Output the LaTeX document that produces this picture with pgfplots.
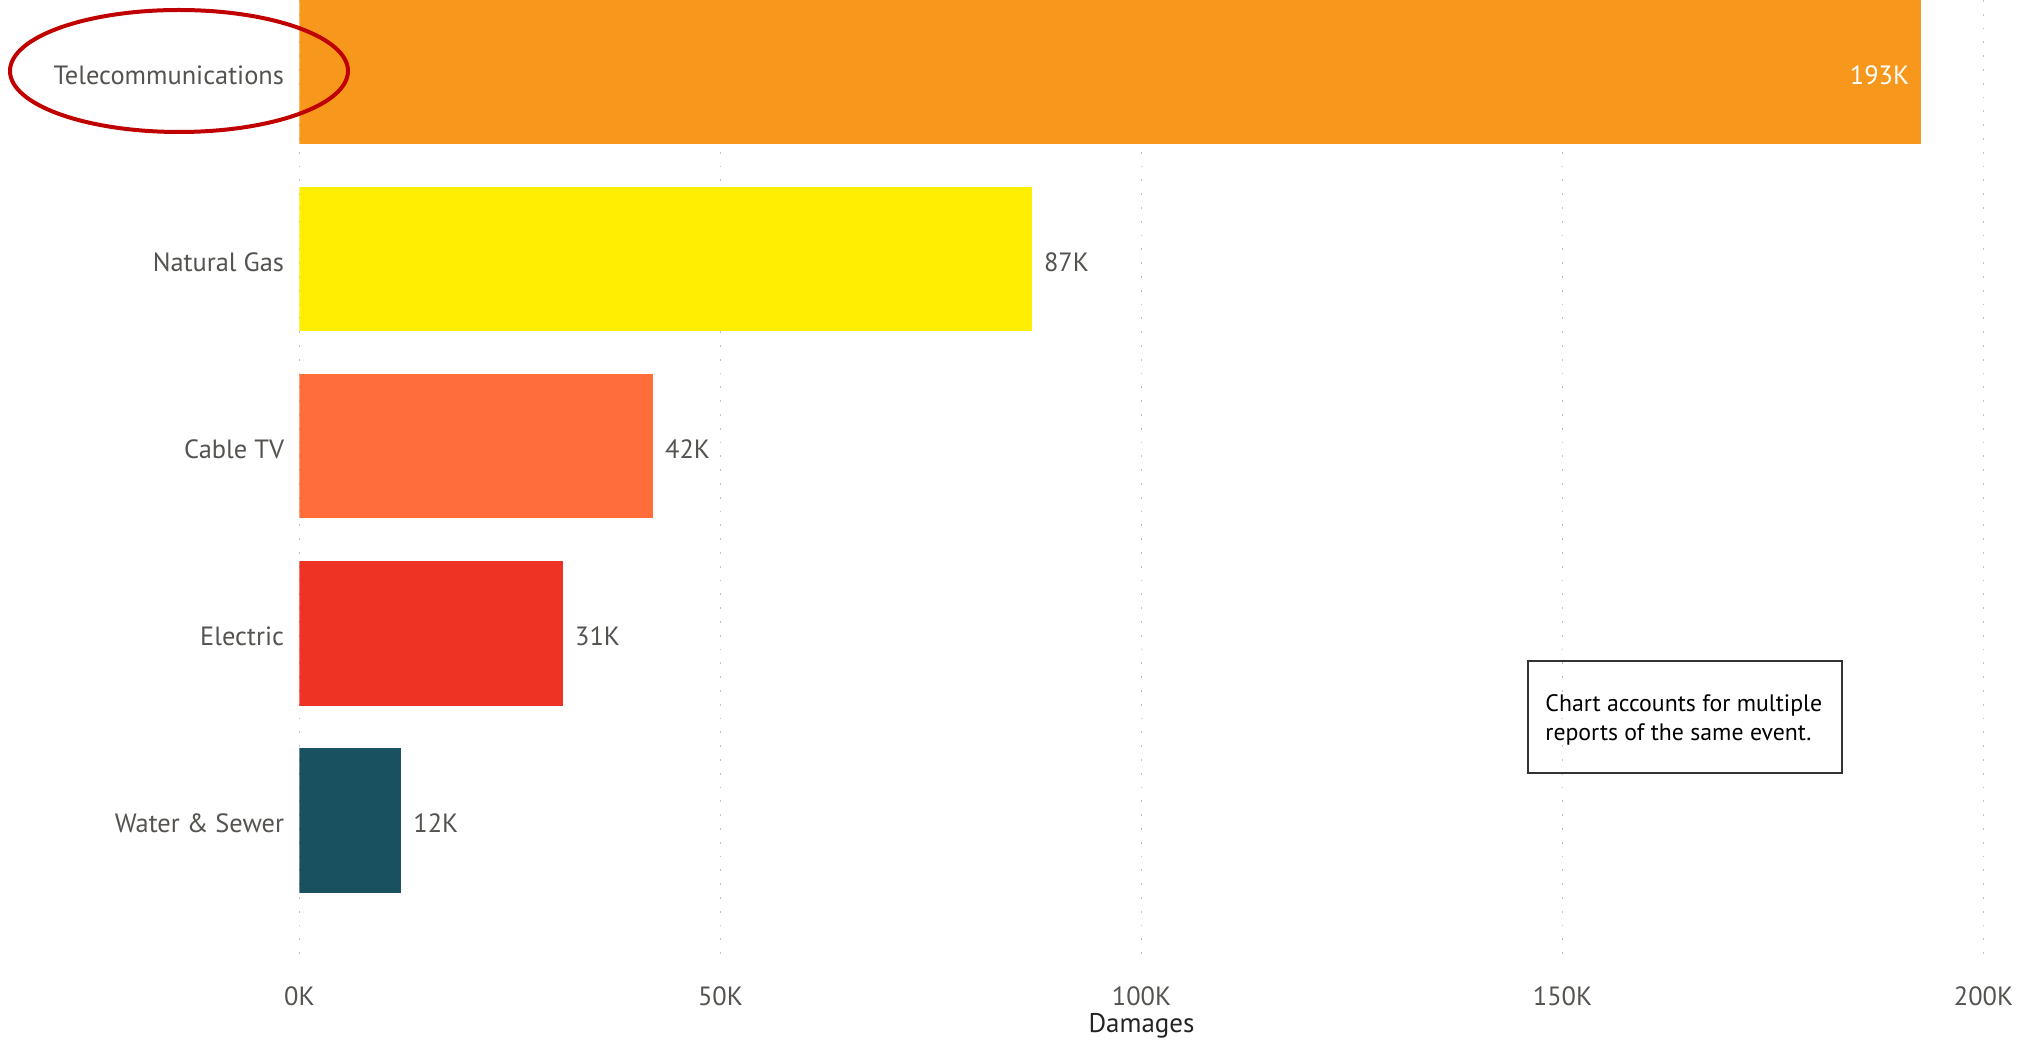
\documentclass[border=0pt]{standalone}
\usepackage{pgfplots}
\pgfplotsset{compat=1.18}
\usepackage{fontspec}
\setmainfont{PT Sans}
\definecolor{telecom}{HTML}{F7981D}
\definecolor{natgas}{HTML}{FFEE00}
\definecolor{cabletv}{HTML}{FF6D3B}
\definecolor{electric}{HTML}{EE3224}
\definecolor{water}{HTML}{1A5161}
\definecolor{lblgray}{HTML}{55534F}
\definecolor{ttlgray}{HTML}{252423}
\definecolor{ellred}{HTML}{C00000}
\begin{document}
\begin{tikzpicture}
\begin{axis}[
  at={(0pt,0pt)}, anchor=north west,
  scale only axis, width=842pt, height=477.5pt,
  xbar, bar width=0.772, bar shift=0pt,
  xmin=0, xmax=200, ymin=-0.386, ymax=4.72, y dir=reverse,
  axis line style={draw=none},
  major tick length=0pt,
  ytick={0,1,2,3,4},
  yticklabels={Telecommunications,Natural Gas,Cable TV,Electric,Water \& Sewer},
  xtick={0,50,100,150,200},
  xticklabels={0K,50K,100K,150K,200K},
  xmajorgrids, ymajorgrids=false,
  grid style={gray!50, line width=0.9pt, dash pattern=on 0.9pt off 6pt},
  tick label style={font=\fontsize{13.2}{15}\selectfont, text=lblgray},
  yticklabel style={xshift=-4.2pt, yshift=-1.6pt},
  xticklabel style={yshift=-12.5pt},
  xlabel={Damages},
  xlabel style={font=\fontsize{13.5}{15}\selectfont, text=ttlgray, yshift=3.2pt},
  every node near coord/.append style={font=\fontsize{13.2}{15}\selectfont, text=lblgray, anchor=west, xshift=2.5pt, yshift=-1.6pt},
]
\addplot[fill=telecom, draw=none, nodes near coords={193K},
  every node near coord/.append style={anchor=east, text=white, xshift=-5pt}]
  coordinates {(192.6,0)};
\addplot[fill=natgas, draw=none, nodes near coords={87K}] coordinates {(87.0,1)};
\addplot[fill=cabletv, draw=none, nodes near coords={42K}] coordinates {(42.0,2)};
\addplot[fill=electric, draw=none, nodes near coords={31K}] coordinates {(31.3,3)};
\addplot[fill=water, draw=none, nodes near coords={12K}] coordinates {(12.1,4)};
\end{axis}
\draw[ellred, line width=2pt] (-60.25pt,-35.5pt) ellipse [x radius=84.5pt, y radius=30.5pt];
\draw[black!80, line width=0.6pt] (614.25pt,-330.5pt) rectangle (771.25pt,-386.5pt);
\node[anchor=west, align=left, inner sep=0pt, font=\fontsize{11.9}{14.2}\selectfont, text=black]
  at (622.75pt,-360pt) {Chart accounts for multiple\\reports of the same event.};
\pgfresetboundingbox
\path[use as bounding box] (-149.75pt,0pt) rectangle (862.25pt,-521pt);
\end{tikzpicture}
\end{document}
